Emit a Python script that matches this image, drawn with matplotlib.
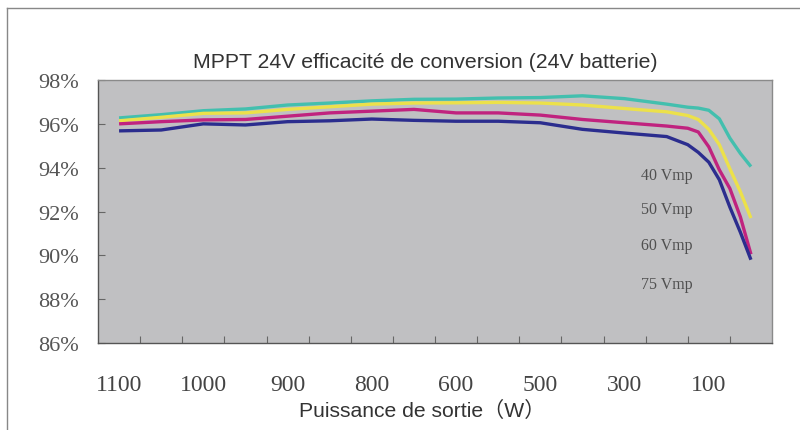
import matplotlib
matplotlib.use("Agg")
import matplotlib.pyplot as plt
from matplotlib.lines import Line2D

# Sample positions along the power axis (one unit = one tick step)
sample_pos = [0.5, 1.5, 2.5, 3.5, 4.5, 5.5, 6.5, 7.5, 8.5, 9.5, 10.5, 11.5,
              12.5, 13.5, 14.0, 14.25, 14.5, 14.75, 15.0, 15.25, 15.5]

# Conversion efficiency (%) for each PV input voltage
eff_40vmp = [96.27, 96.42, 96.60, 96.68, 96.86, 96.95, 97.05, 97.12, 97.13, 97.18,
             97.20, 97.28, 97.15, 96.90, 96.76, 96.72, 96.62, 96.23, 95.35, 94.65, 94.05]
eff_50vmp = [96.14, 96.30, 96.48, 96.50, 96.66, 96.78, 96.90, 96.95, 96.96, 96.98,
             96.95, 96.86, 96.70, 96.55, 96.38, 96.20, 95.75, 95.05, 93.95, 92.90, 91.70]
eff_60vmp = [96.00, 96.10, 96.18, 96.20, 96.35, 96.50, 96.58, 96.66, 96.50, 96.50,
             96.40, 96.20, 96.05, 95.90, 95.80, 95.63, 94.95, 93.90, 93.05, 91.75, 90.05]
eff_75vmp = [95.68, 95.72, 96.00, 95.95, 96.10, 96.14, 96.22, 96.16, 96.12, 96.12,
             96.05, 95.75, 95.58, 95.42, 95.05, 94.70, 94.25, 93.45, 92.20, 91.05, 89.80]

series_labels = ["40 Vmp", "50 Vmp", "60 Vmp", "75 Vmp"]
power_labels = ["1100", "1000", "900", "800", "600", "500", "300", "100"]
power_label_pos = [0.5, 2.5, 4.5, 6.5, 8.5, 10.5, 12.5, 14.5]
minor_tick_pos = list(range(1, 16))
y_ticks = [86, 88, 90, 92, 94, 96, 98]

colors = ["#43bfae", "#ece14a", "#c0237f", "#2b2d8e"]

fig = plt.figure(figsize=(8.0, 4.31), dpi=100)
fig.patch.set_facecolor("white")
ax = fig.add_axes([0.1225, 0.2018, 0.8425, 0.6102])
ax.set_facecolor("#c0c0c2")

for vals, c in zip([eff_40vmp, eff_50vmp, eff_60vmp, eff_75vmp], colors):
    ax.plot(sample_pos, vals, color=c, lw=2.4, solid_capstyle="butt",
            solid_joinstyle="round")

ax.set_xlim(0, 16)
ax.set_ylim(86, 98)

# y axis: inward ticks with percent labels
ax.set_yticks(y_ticks)
ax.set_yticklabels([f"{v}%" for v in y_ticks], family="Liberation Serif",
                   fontsize=16, color="#555555")
ax.tick_params(axis="y", direction="in", length=5, width=0.8, color="#666666", pad=14)

# x axis: unlabeled inward ticks, labels placed between them
ax.set_xticks(minor_tick_pos, minor=True)
ax.set_xticks(power_label_pos)
ax.set_xticklabels(power_labels, family="Liberation Serif", fontsize=17, color="#444444")
ax.tick_params(axis="x", which="major", length=0, pad=22)
ax.tick_params(axis="x", which="minor", direction="in", length=5, width=0.8, color="#666666")

for side in ["left", "bottom"]:
    ax.spines[side].set_color("#555555")
    ax.spines[side].set_linewidth(1.0)
for side in ["top", "right"]:
    ax.spines[side].set_color("#8a8a8a")
    ax.spines[side].set_linewidth(1.0)

# series labels inside the plot
label_y = [93.66, 92.11, 90.47, 88.69]
for txt, yv in zip(series_labels, label_y):
    ax.text(12.9, yv, txt, family="Liberation Serif", fontsize=11.5, color="#505050",
            ha="left", va="center")

fig.text(425 / 800, 1 - 63 / 431, "MPPT 24V efficacité de conversion (24V batterie)",
         family="Liberation Sans", fontsize=15.3, color="#333333", ha="center", va="center")
fig.text(422 / 800, 1 - 411 / 431, "Puissance de sortie（W）",
         family=["Liberation Sans", "Noto Sans CJK SC"], fontsize=15.2, color="#333333",
         ha="center", va="center")

# outer frame lines (top and left)
fig.add_artist(Line2D([0.009, 1.0], [1 - 8.5 / 431, 1 - 8.5 / 431],
                      transform=fig.transFigure, color="#888888", lw=1.0))
fig.add_artist(Line2D([0.009, 0.009], [0.0, 1 - 8.5 / 431],
                      transform=fig.transFigure, color="#888888", lw=1.0))

fig.savefig("out.png", dpi=100, facecolor="white")
